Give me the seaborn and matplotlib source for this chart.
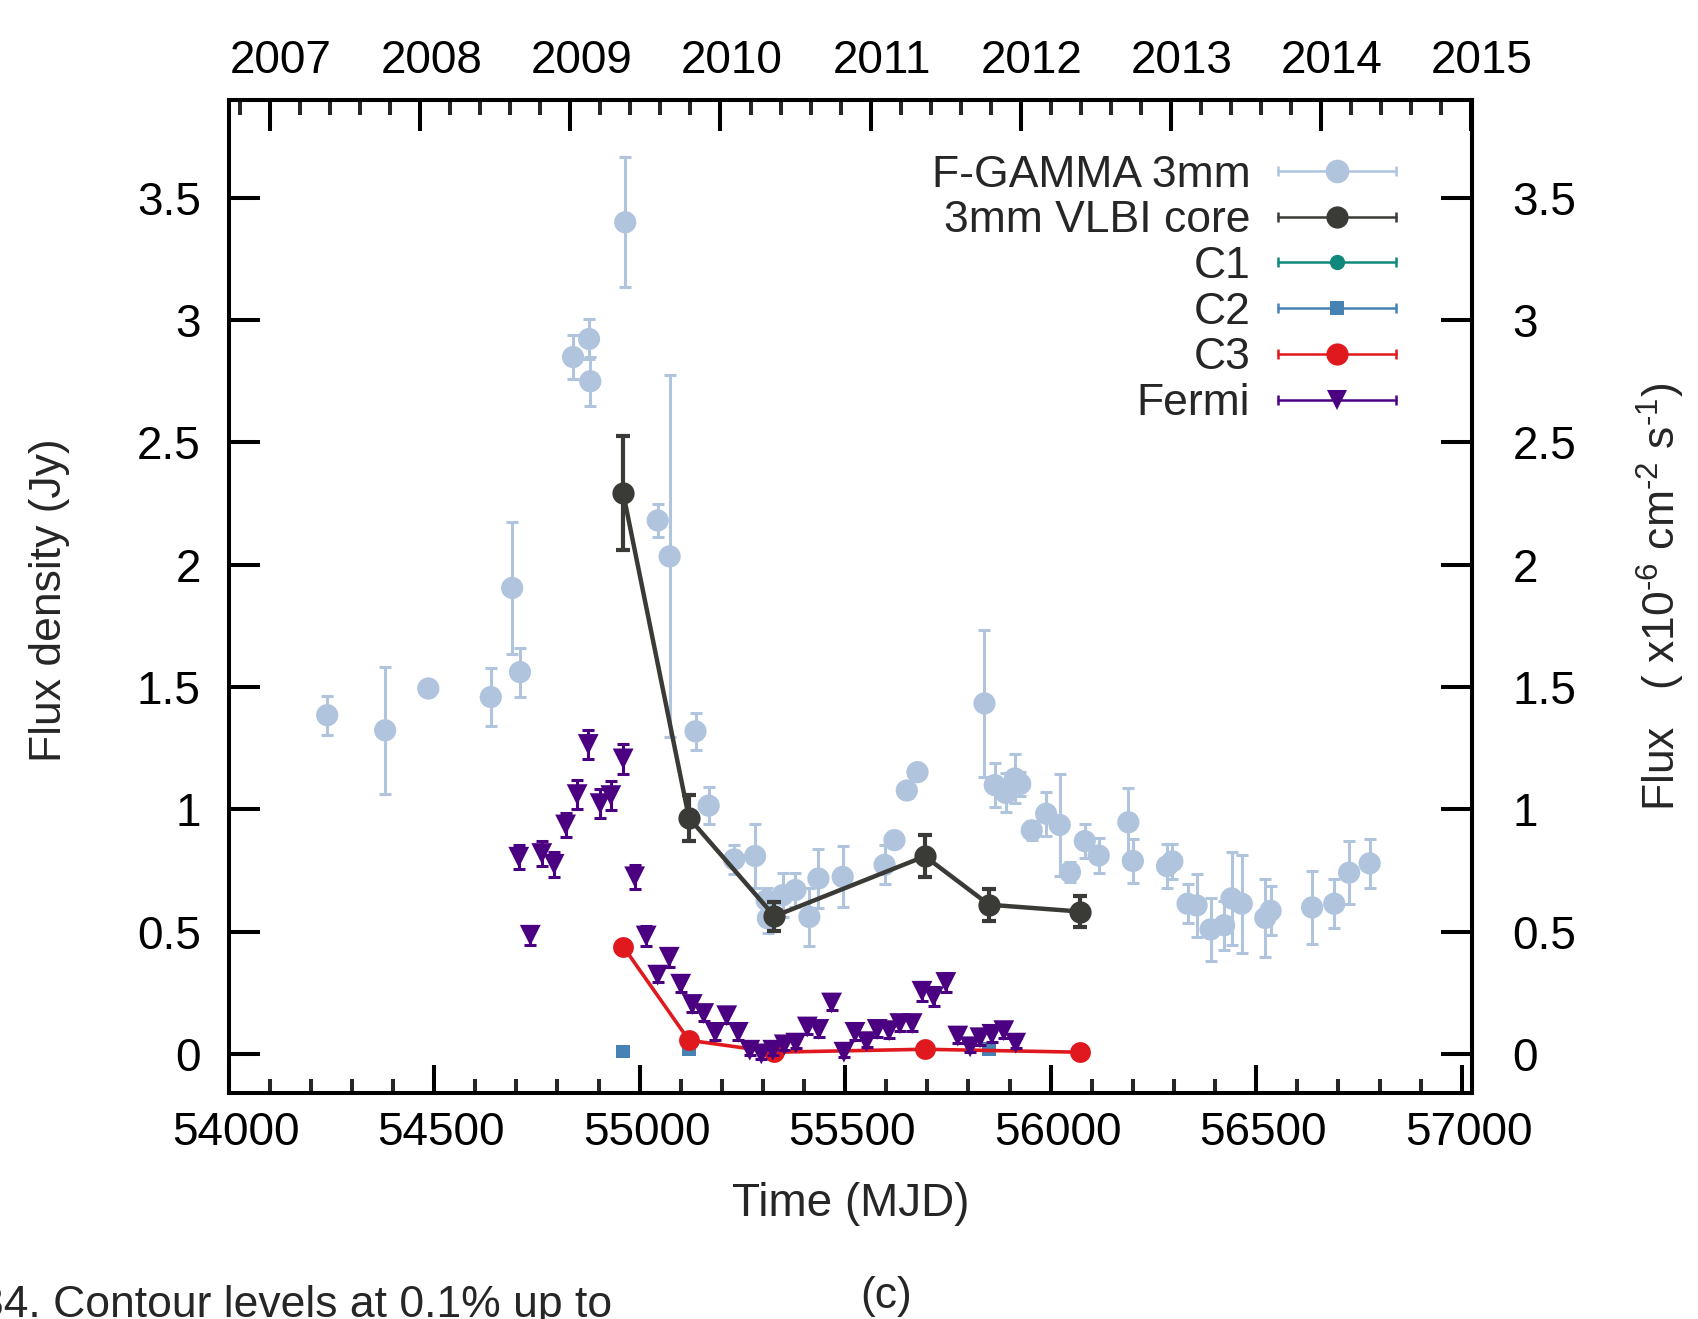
import numpy as np
import matplotlib
matplotlib.use("Agg")
import matplotlib.pyplot as plt
import seaborn as sns
from matplotlib.lines import Line2D
from matplotlib.legend_handler import HandlerTuple, HandlerLine2D
from matplotlib.ticker import MultipleLocator, AutoMinorLocator
import matplotlib.transforms as mtransforms

# ---------------- data ----------------
fgamma_mjd = [54240, 54381, 54486, 54638, 54690, 54709, 54838, 54877, 54880, 54965,
              55044, 55073, 55136, 55168, 55230, 55281, 55309, 55312, 55348, 55379,
              55413, 55435, 55494, 55596, 55620, 55650, 55676, 55839, 55864, 55891,
              55913, 55926, 55954, 55989, 56022, 56047, 56083, 56117, 56189, 56200,
              56283, 56296, 56333, 56355, 56389, 56422, 56440, 56465, 56522, 56535,
              56636, 56690, 56726, 56776]
fgamma_flux = [1.385, 1.323, 1.494, 1.459, 1.905, 1.561, 2.849, 2.923, 2.750, 3.400,
               2.181, 2.034, 1.319, 1.015, 0.795, 0.809, 0.628, 0.554, 0.649, 0.670,
               0.560, 0.717, 0.724, 0.773, 0.874, 1.077, 1.152, 1.433, 1.099, 1.067,
               1.126, 1.104, 0.914, 0.982, 0.936, 0.743, 0.870, 0.811, 0.947, 0.789,
               0.768, 0.787, 0.614, 0.607, 0.509, 0.526, 0.636, 0.614, 0.556, 0.585,
               0.599, 0.614, 0.741, 0.779]
fgamma_err = [0.08, 0.26, 0.02, 0.12, 0.27, 0.10, 0.09, 0.08, 0.10, 0.265,
              0.068, 0.74, 0.076, 0.075, 0.06, 0.13, 0.05, 0.06, 0.09, 0.07,
              0.12, 0.12, 0.125, 0.08, 0.03, 0.03, 0.03, 0.30, 0.09, 0.08,
              0.10, 0.05, 0.04, 0.09, 0.21, 0.04, 0.07, 0.07, 0.14, 0.09,
              0.09, 0.07, 0.08, 0.13, 0.13, 0.10, 0.19, 0.20, 0.16, 0.10,
              0.15, 0.10, 0.13, 0.10]

core_mjd = [54960, 55120, 55328, 55694, 55850, 56072]
core_flux = [2.293, 0.965, 0.563, 0.808, 0.610, 0.582]
core_err = [0.232, 0.095, 0.060, 0.085, 0.065, 0.062]

c2_mjd = [54960, 55120, 55850]
c2_flux = [0.010, 0.020, 0.020]

c3_mjd = [54960, 55120, 55328, 55694, 56072]
c3_flux = [0.439, 0.056, 0.007, 0.019, 0.007]

fermi_mjd = [54706, 54734, 54762, 54792, 54820, 54848, 54875, 54904, 54930, 54960,
             54988, 55016, 55044, 55072, 55100, 55128, 55156, 55184, 55212, 55240,
             55268, 55296, 55324, 55352, 55380, 55408, 55436, 55467, 55497, 55524,
             55552, 55578, 55607, 55633, 55663, 55687, 55715, 55745, 55774, 55804,
             55828, 55857, 55886, 55915]
fermi_flux = [0.804, 0.485, 0.819, 0.775, 0.936, 1.060, 1.265, 1.023, 1.056, 1.206,
              0.724, 0.482, 0.322, 0.395, 0.285, 0.202, 0.165, 0.088, 0.156, 0.088,
              0.015, 0.000, 0.015, 0.037, 0.044, 0.110, 0.100, 0.208, 0.007, 0.088,
              0.050, 0.100, 0.095, 0.124, 0.124, 0.256, 0.234, 0.292, 0.073, 0.029,
              0.066, 0.080, 0.095, 0.044]
fermi_err = [0.05, 0.04, 0.05, 0.05, 0.05, 0.06, 0.06, 0.06, 0.06, 0.06,
             0.05, 0.04, 0.03, 0.04, 0.03, 0.03, 0.03, 0.03, 0.03, 0.03,
             0.02, 0.02, 0.02, 0.02, 0.02, 0.03, 0.03, 0.03, 0.02, 0.03,
             0.02, 0.03, 0.03, 0.03, 0.03, 0.04, 0.04, 0.04, 0.03, 0.02,
             0.03, 0.03, 0.03, 0.02]

legend_labels = ["F-GAMMA 3mm", "3mm VLBI core", "C1", "C2", "C3", "Fermi"]
mjd_ticks = [54000, 54500, 55000, 55500, 56000, 56500, 57000]
year_ticks = [2007, 2008, 2009, 2010, 2011, 2012, 2013, 2014, 2015]
y_ticks = [0, 0.5, 1, 1.5, 2, 2.5, 3, 3.5]
y_ticklabels = ["0", "0.5", "1", "1.5", "2", "2.5", "3", "3.5"]

# ---------------- style ----------------
sns.set_theme(style="white")
plt.rcParams["font.family"] = ["Liberation Sans", "DejaVu Sans"]
plt.rcParams["mathtext.fontset"] = "custom"
plt.rcParams["mathtext.rm"] = "Liberation Sans"
plt.rcParams["mathtext.it"] = "Liberation Sans"

C_FG = "#b0c4de"
C_CORE = "#3a3a36"
C_C1 = "#10897c"
C_C2 = "#4682b4"
C_C3 = "#e0191f"
C_FERMI = "#4b0082"

FS = 33
SPW = 2.9

fig = plt.figure(figsize=(16.98, 13.19), dpi=100)
ax = fig.add_axes([0.1346, 0.1713, 0.7323, 0.7529])

# F-GAMMA
ax.errorbar(fgamma_mjd, fgamma_flux, yerr=fgamma_err, fmt="none", ecolor=C_FG,
            elinewidth=2.2, capsize=4.5, capthick=2.2, zorder=2)
sns.scatterplot(x=fgamma_mjd, y=fgamma_flux, color=C_FG, s=16 ** 2, edgecolor="none",
                linewidth=0, ax=ax, zorder=2.5, legend=False)

# VLBI core
ax.errorbar(core_mjd, core_flux, yerr=core_err, fmt="none", ecolor=C_CORE,
            elinewidth=3, capsize=5, capthick=3, zorder=4)
sns.lineplot(x=core_mjd, y=core_flux, color=C_CORE, linewidth=3.2, marker="o",
             markersize=16, markeredgewidth=0, ax=ax, zorder=4.5, legend=False)

# C2
sns.scatterplot(x=c2_mjd, y=c2_flux, color=C_C2, marker="s", s=10 ** 2, edgecolor="none",
                linewidth=0, ax=ax, zorder=3.5, legend=False)

# C3
sns.lineplot(x=c3_mjd, y=c3_flux, color=C_C3, linewidth=2.6, marker="o",
             markersize=15, markeredgewidth=0, ax=ax, zorder=5, legend=False)

# Fermi
ax.errorbar(fermi_mjd, fermi_flux, yerr=fermi_err, fmt="none", ecolor=C_FERMI,
            elinewidth=2.2, capsize=4, capthick=2.2, zorder=6)
sns.scatterplot(x=fermi_mjd, y=fermi_flux, color=C_FERMI, marker="v", s=15 ** 2,
                edgecolor="none", linewidth=0, ax=ax, zorder=6.5, legend=False)

# ---------------- axes ----------------
ax.set_xlim(54000, 57025)
ax.set_ylim(-0.16, 3.9)
for sp in ax.spines.values():
    sp.set_linewidth(SPW)
    sp.set_color("black")

ax.set_xticks(mjd_ticks, labels=[str(t) for t in mjd_ticks])
ax.xaxis.set_minor_locator(MultipleLocator(100))
ax.tick_params(axis="x", which="major", direction="in", length=20, width=SPW,
               bottom=True, top=False, labelsize=FS, pad=13, colors="black")
ax.tick_params(axis="x", which="minor", direction="in", length=10, width=SPW,
               bottom=True, top=False)
ax.set_yticks(y_ticks, labels=y_ticklabels)
ax.tick_params(axis="y", which="major", direction="in", length=22, width=SPW,
               left=True, right=False, labelsize=FS, pad=20, colors="black")
ax.grid(False)

bshift = mtransforms.ScaledTranslation(7 / 100, 0, fig.dpi_scale_trans)
for lbl in ax.get_xticklabels():
    lbl.set_transform(lbl.get_transform() + bshift)

# top: years
def mjd2yr(m):
    return 2007.0 + (np.asarray(m, dtype=float) - 54101.0) / 365.25

def yr2mjd(y):
    return 54101.0 + (np.asarray(y, dtype=float) - 2007.0) * 365.25

secx = ax.secondary_xaxis("top", functions=(mjd2yr, yr2mjd))
secx.set_xticks(year_ticks, labels=[str(y) for y in year_ticks])
secx.xaxis.set_minor_locator(AutoMinorLocator(5))
secx.tick_params(which="major", direction="in", length=22, width=SPW, pad=12,
                 labelsize=FS, colors="black")
secx.tick_params(which="minor", direction="in", length=11, width=SPW)
secx.spines["top"].set_linewidth(SPW)
tshift = mtransforms.ScaledTranslation(11 / 100, 0, fig.dpi_scale_trans)
for lbl in secx.get_xticklabels():
    lbl.set_transform(lbl.get_transform() + tshift)

# right: Fermi flux (same scale)
secy = ax.secondary_yaxis("right")
secy.set_yticks(y_ticks, labels=y_ticklabels)
secy.tick_params(which="major", direction="in", length=22, width=SPW, pad=29,
                 labelsize=FS, colors="black")
secy.spines["right"].set_linewidth(SPW)

# axis labels
ax.set_xlabel("Time (MJD)", fontsize=FS)
ax.xaxis.set_label_coords(0.5012, 0.0872, transform=fig.transFigure)
ax.xaxis.label.set_va("center")
ax.set_ylabel("Flux density (Jy)", fontsize=32)
ax.yaxis.set_label_coords(0.0294, 0.545, transform=fig.transFigure)
ax.yaxis.label.set_va("center")
ax.yaxis.label.set_ha("center")
secy.set_ylabel(r"Flux   ( x10$^{\text{-6}}$ cm$^{\text{-2}}$ s$^{\text{-1}}$)",
                fontsize=32, rotation=90)
secy.yaxis.set_label_coords(0.978, 0.5475, transform=fig.transFigure)
secy.yaxis.label.set_va("center")
secy.yaxis.label.set_ha("center")

# ---------------- legend ----------------
def make_handle(color, marker, ms):
    cap = Line2D([], [], color=color, lw=1.8, marker="|", markersize=7,
                 markeredgewidth=1.8)
    mk = Line2D([], [], color=color, lw=0, marker=marker, markersize=ms,
                markeredgewidth=0)
    return (cap, mk), {cap: HandlerLine2D(numpoints=2, marker_pad=0),
                       mk: HandlerLine2D(numpoints=1)}

handles = []
hmap = {tuple: HandlerTuple(ndivide=1, pad=0)}
for color, marker, ms in [(C_FG, "o", 17), (C_CORE, "o", 16), (C_C1, "o", 11),
                          (C_C2, "s", 10), (C_C3, "o", 16), (C_FERMI, "v", 15)]:
    h, m = make_handle(color, marker, ms)
    handles.append(h)
    hmap.update(m)

ax.legend(handles, legend_labels, handler_map=hmap, loc="upper right",
          bbox_to_anchor=(0.939, 0.945), frameon=False, markerfirst=False,
          fontsize=32, handlelength=2.66, handletextpad=0.62, labelspacing=0.106,
          borderpad=0, borderaxespad=0)

# ---------------- page texts ----------------
fig.text(0.5218, 0.017, "(c)", ha="center", va="center", fontsize=32)
fig.text(0.3604, 0.0255, "34. Contour levels at 0.1% up to", ha="right", va="top",
         fontsize=32)

fig.savefig("out.png", dpi=100)
